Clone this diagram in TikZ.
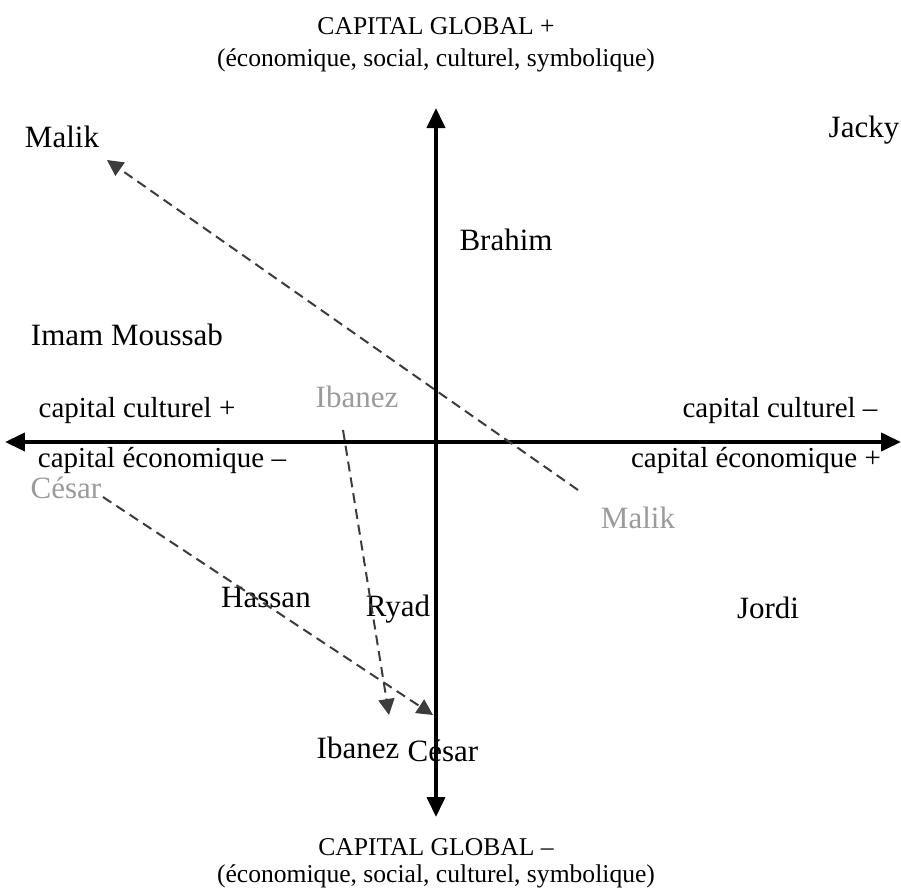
\documentclass[tikz,border=0pt]{standalone}
\usepackage{fontspec}
\setmainfont{Liberation Serif}
\usepackage{tikz}
\usetikzlibrary{arrows.meta, positioning}
\definecolor{oldgray} {RGB}{155, 155, 155}
\definecolor{movegray}{RGB}{60, 60, 60}
\tikzset{
	lbl/.style={inner sep=1pt, font=\fontsize{15.5}{18}\selectfont},
	axlbl/.style={inner sep=1pt, font=\fontsize{14.5}{17}\selectfont},
	title/.style={inner sep=0pt, anchor=base, font=\fontsize{12.8}{15}\selectfont},
	oldlbl/.style={lbl, text=oldgray},
	axis/.style={line width=2pt, -{Triangle[length=10pt, width=9pt]}},
	moveto/.style={movegray, line width=1pt, dash pattern=on 5pt off 3pt,
		-{Triangle[length=8pt, width=8pt]}}
}

\begin{document}
\begin{tikzpicture}[x=5pt,y=5pt]
	\useasboundingbox (-43.6,-44.8) rectangle (46.5,44.2);
	% axes
	\coordinate (o) at (0,0);
	\coordinate (top) at (0,33.4);
	\coordinate (bottom) at (0,-37.5);
	\coordinate (left) at (-43.1,0);
	\coordinate (right) at (46.5,0);
	\draw[axis] (o) -- (top);
	\draw[axis] (o) -- (bottom);
	\draw[axis] (o) -- (left);
	\draw[axis] (o) -- (right);
	% axis labels
	\node[title] (gtop1) at (0,40.8) {CAPITAL GLOBAL +};
	\node[title] (gtop2) at (0,37.5) {(économique, social, culturel, symbolique)};
	\node[title] (gbot1) at (0,-41.3) {CAPITAL GLOBAL –};
	\node[title] (gbot2) at (0,-44.0) {(économique, social, culturel, symbolique)};
	\node[axlbl] (culplus) at (-29.9,3.1) {capital culturel +};
	\node[axlbl] (ecomin) at (-27.4,-1.9) {capital économique –};
	\node[axlbl] (culmin) at (34.4,3.1) {capital culturel –};
	\node[axlbl] (ecoplus) at (32.0,-1.9) {capital économique +};
	% persons
	\node[lbl] (malik) at (-37.4,30.5) {Malik};
	\node[lbl] (jacky) at (42.8,31.2) {Jacky};
	\node[lbl] (brahim) at (7,20.2) {Brahim};
	\node[lbl] (imam) at (-30.9,10.7) {Imam Moussab};
	\node[lbl] (hassan) at (-17,-15.5) {Hassan};
	\node[lbl] (ryad) at (-3.8,-16.7) {Ryad};
	\node[lbl] (jordi) at (33.2,-16.6) {Jordi};
	\node[lbl] (ibanez) at (-7.8,-30.6) {Ibanez};
	\node[lbl] (cesar) at (0.7,-30.9) {César};
	% earlier positions
	\node[oldlbl] (ibanezold) at (-7.9,4.5) {Ibanez};
	\node[oldlbl] (cesarold) at (-37.0,-4.6) {César};
	\node[oldlbl] (malikold) at (20.2,-7.6) {Malik};
	% moves
	\coordinate (malikfrom) at (14.2,-4.8);
	\coordinate (malikto) at (-32.9,28.2);
	\coordinate (ibanezfrom) at (-9.3,1.2);
	\coordinate (ibanezto) at (-4.7,-27.3);
	\coordinate (cesarfrom) at (-33.3,-5.5);
	\coordinate (cesarto) at (-0.3,-27.3);
	\draw[moveto] (malikfrom) -- (malikto);
	\draw[moveto] (ibanezfrom) -- (ibanezto);
	\draw[moveto] (cesarfrom) -- (cesarto);
\end{tikzpicture}
\end{document}
